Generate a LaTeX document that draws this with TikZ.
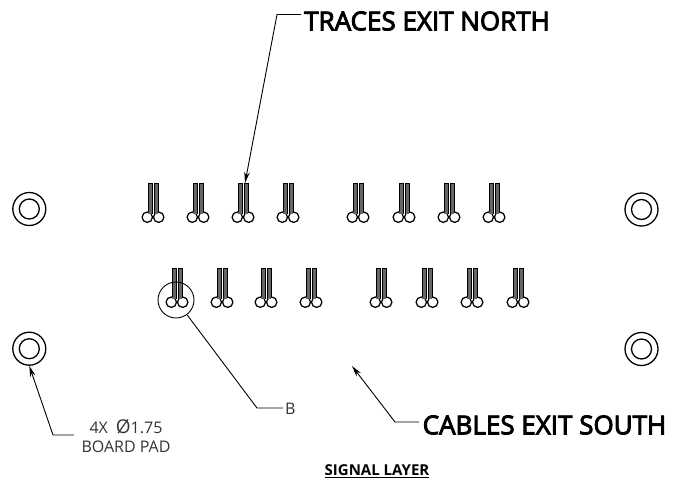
\documentclass[tikz,border=0pt]{standalone}
\usepackage{fontspec}
\setmainfont{Open Sans}
\newfontfamily\heavyfont[FakeBold=3.5]{Open Sans}
\usetikzlibrary{arrows.meta}
\tikzset{
  leader/.style={line width=0.9pt,black},
  tipped/.style={leader,-{Stealth[length=11pt,width=5.5pt]}},
  hole/.style={draw,circle,line width=1.3pt,inner sep=0pt},
  biglabel/.style={inner sep=0pt,anchor=west,font=\fontsize{26}{28}\heavyfont},
  smalllabel/.style={inner sep=0pt,align=center,text=black!80,font=\fontsize{16}{19}\selectfont},
  padline/.style={line width=1pt},
  padfill/.style={fill=black!60,draw=none},
  pics/keyhole/.style={code={
    \draw[line width=1.25pt] (-5.7,34.2) circle (5.2);
    \draw[line width=1.25pt] (5.7,34.2) circle (5.2);
    \path[padfill] (-5,0) rectangle (-1,31);
    \path[padfill] (1,0) rectangle (5,31);
    \draw[padline] (-5,0) -- (-5,29.1);
    \draw[padline] (-1,0) -- (-1,31.4);
    \draw[padline] (1,0) -- (1,31.4);
    \draw[padline] (5,0) -- (5,29.1);
    \draw[padline] (-5,0) -- (-1,0);
    \draw[padline] (1,0) -- (5,0);
  }}
}
\begin{document}
\begin{tikzpicture}[x=1pt,y=-1pt]
\useasboundingbox (0,0) rectangle (677,482);

% mounting holes
\foreach \name/\px/\py in {a/29.3/209,b/641.5/209.5,c/29.3/348.7,d/641.5/349}{
  \node[hole,minimum size=33pt] (hole\name) at (\px,\py) {};
  \node[hole,minimum size=20pt] (inner\name) at (\px,\py) {};
}

% top and bottom rows of pads
\foreach \px in {153,198,243,288,358,404,449,494}
  \pic at (\px,183) {keyhole};
\foreach \px in {177,222,266,311,381,427,472,518}
  \pic at (\px,268) {keyhole};

\node[biglabel] (tracestext) at (304,21) {TRACES EXIT NORTH};
\node[biglabel] (cablestext) at (422.5,425) {CABLES EXIT SOUTH};
\node[smalllabel] (padtext) at (126,436) {4X\hspace{8pt}{\fontsize{19}{19}\selectfont Ø}1.75\\BOARD PAD};
\node[smalllabel,anchor=west] (btext) at (285,408.5) {B};
\node[inner sep=0pt,font=\fontsize{15}{17}\selectfont\bfseries] (layertext) at (377,471) {\underline{SIGNAL LAYER}};

\node[draw,circle,leader,minimum size=36pt,inner sep=0pt] (detail) at (176,300) {};

\coordinate (tracesbend) at (277,14.5);
\coordinate (tracesend) at (301,14.5);
\coordinate (tracestip) at (245,183);
\coordinate (cablesbend) at (395,422);
\coordinate (cablesend) at (419,422);
\coordinate (cablestip) at (352,366);
\coordinate (padbend) at (53,435);
\coordinate (padend) at (74,435);
\coordinate (bbend) at (257,408);
\coordinate (bend) at (283,408);

\draw[tipped] (tracesend) -- (tracesbend) -- (tracestip);
\draw[tipped] (cablesend) -- (cablesbend) -- (cablestip);
\draw[tipped] (padend) -- (padbend) -- (holec.south);
\draw[leader] (bend) -- (bbend) -- (detail);

\end{tikzpicture}
\end{document}
